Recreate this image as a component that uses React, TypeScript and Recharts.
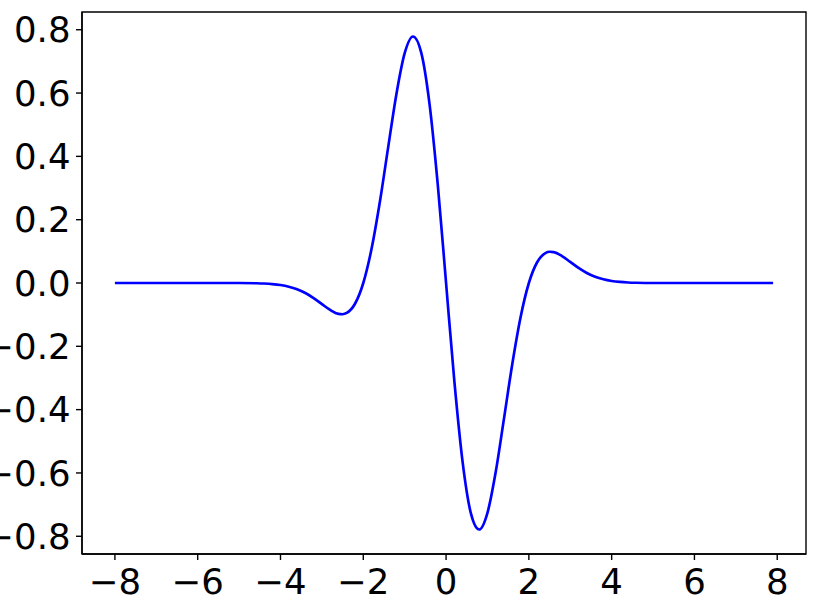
import React from 'react';
import { LineChart, Line, XAxis, YAxis, ReferenceArea } from 'recharts';

// values
const xValues = [
  -8, -7, -6, -5.4, -5, -4.6, -4.4, -4.2, -4.0, -3.8, -3.6, -3.4, -3.2, -3.0, -2.8, -2.6, -2.5, -2.4,
  -2.2, -2.0, -1.8, -1.6, -1.4, -1.2, -1.0, -0.8, -0.6, -0.4, -0.2, 0, 0.2, 0.4, 0.6, 0.8, 1.0,
  1.2, 1.4, 1.6, 1.8, 2.0, 2.2, 2.4, 2.5, 2.6, 2.8, 3.0, 3.2, 3.4, 3.6, 3.8, 4.0, 4.2, 4.4, 4.6,
  5, 5.4, 6, 7, 7.9,
];
const yValues = [
  0, 0, 0, 0, 0, -0.0008, -0.0017, -0.0034, -0.0064, -0.0116, -0.0197, -0.0317, -0.0476, -0.0665,
  -0.0851, -0.0975, -0.0986, -0.0946, -0.0656, 0, 0.108, 0.2556, 0.4276, 0.5965, 0.7259, 0.7787,
  0.7278, 0.5657, 0.3097, 0, -0.3097, -0.5657, -0.7278, -0.7787, -0.7259, -0.5965, -0.4276, -0.2556,
  -0.108, 0, 0.0656, 0.0946, 0.0986, 0.0975, 0.0851, 0.0665, 0.0476, 0.0317, 0.0197, 0.0116, 0.0064,
  0.0034, 0.0017, 0.0008, 0, 0, 0, 0, 0,
];
const xTicks = [-8, -6, -4, -2, 0, 2, 4, 6, 8];
const yTicks = [-0.8, -0.6, -0.4, -0.2, 0, 0.2, 0.4, 0.6, 0.8];

const xDomain: [number, number] = [-8.795, 8.695];
const yDomain: [number, number] = [-0.856, 0.856];

const data = xValues.map((x, i) => ({ x, y: yValues[i] }));

const fmtX = (v: number) => (v < 0 ? '\u2212' + Math.abs(v) : String(v));
const fmtY = (v: number) => (v < 0 ? '\u2212' + Math.abs(v).toFixed(1) : v.toFixed(1));

const tickStyle = { fill: '#000', fontSize: 35.5, fontFamily: 'DejaVu Sans' };
const axisLine = { stroke: '#000', strokeWidth: 1.4 };
const tickLine = { stroke: '#000', strokeWidth: 1.4 };

export default function App() {
  return (
    <div style={{ position: 'absolute', left: 0, top: 0, width: 822, height: 616, background: '#fff' }}>
      <LineChart
        width={822}
        height={616}
        data={data}
        margin={{ top: 12, right: 16, bottom: 0, left: 0 }}
      >
        <XAxis
          dataKey="x"
          type="number"
          domain={xDomain}
          ticks={xTicks}
          allowDataOverflow
          tickFormatter={fmtX}
          height={62}
          tickSize={6}
          tickMargin={9}
          tick={tickStyle}
          axisLine={axisLine}
          tickLine={tickLine}
        />
        <YAxis
          type="number"
          domain={yDomain}
          ticks={yTicks}
          allowDataOverflow
          tickFormatter={fmtY}
          width={82}
          tickSize={6}
          tickMargin={5.5}
          tick={tickStyle}
          axisLine={axisLine}
          tickLine={tickLine}
        />
        <ReferenceArea
          x1={xDomain[0]}
          x2={xDomain[1]}
          y1={yDomain[0]}
          y2={yDomain[1]}
          fill="none"
          fillOpacity={0}
          stroke="#000"
          strokeWidth={1.4}
          strokeOpacity={1}
        />
        <Line
          type="monotone"
          dataKey="y"
          stroke="#0000ff"
          strokeWidth={2.67}
          dot={false}
          isAnimationActive={false}
        />
      </LineChart>
    </div>
  );
}
